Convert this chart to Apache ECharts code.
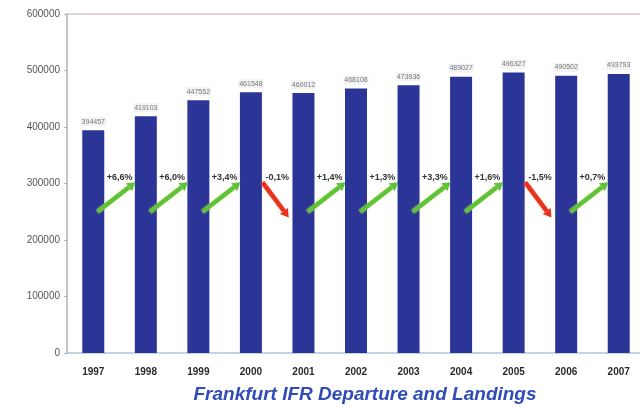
<!DOCTYPE html>
<html>
<head>
<meta charset="utf-8">
<script src="https://cdn.jsdelivr.net/npm/echarts@6/dist/echarts.min.js"></script>
<style>
  html, body { margin: 0; padding: 0; background: #ffffff; }
  #chart { width: 640px; height: 407px; }
</style>
</head>
<body>
<div id="chart"></div>
<script>
// Yearly IFR movements (departures + landings) at Frankfurt
var years = ['1997', '1998', '1999', '2000', '2001', '2002', '2003', '2004', '2005', '2006', '2007'];
var movements = [394457, 419103, 447552, 461548, 460012, 468108, 473936, 489027, 496327, 490502, 493793];
// Year-on-year change shown between neighbouring bars
var changes = ['+6,6%', '+6,0%', '+3,4%', '-0,1%', '+1,4%', '+1,3%', '+3,3%', '+1,6%', '-1,5%', '+0,7%'];
var yTicks = [0, 100000, 200000, 300000, 400000, 500000, 600000];

var chart = echarts.init(document.getElementById('chart'));

function arrowItem(params, api) {
  var i = params.dataIndex;
  var pct = changes[i];
  var up = pct.charAt(0) !== '-';
  var band = api.size([1, 0])[0];
  var lowV = 250000, highV = 302000;
  var a, b;
  if (up) {
    a = api.coord([i, lowV]);  a[0] += band * 0.08;
    b = api.coord([i, highV]); b[0] += band * 0.8;
  } else {
    a = api.coord([i, highV]); a[0] += band * 0.22;
    b = api.coord([i, lowV - 10000]); b[0] += band * 0.72;
  }
  var color = up ? '#5ec23a' : '#e8321e';
  var dx = b[0] - a[0], dy = b[1] - a[1];
  var len = Math.sqrt(dx * dx + dy * dy);
  var ux = dx / len, uy = dy / len;
  var hl = 8, hw = 5;
  var base = [b[0] - ux * hl, b[1] - uy * hl];
  var p1 = [base[0] - uy * hw, base[1] + ux * hw];
  var p2 = [base[0] + uy * hw, base[1] - ux * hw];
  var t = api.coord([i, 310000]);
  t[0] += band * 0.5;
  return {
    type: 'group',
    children: [
      {
        type: 'line',
        shape: { x1: a[0], y1: a[1], x2: base[0], y2: base[1] },
        style: { stroke: color, lineWidth: 4.5, shadowBlur: 2, shadowColor: up ? 'rgba(220,230,90,0.8)' : 'rgba(240,120,60,0.6)' }
      },
      {
        type: 'polygon',
        shape: { points: [b, p1, p2] },
        style: { fill: color }
      },
      {
        type: 'text',
        x: t[0], y: t[1],
        style: {
          text: pct,
          align: 'center', verticalAlign: 'middle',
          fill: '#333333',
          font: 'bold 9px "Liberation Sans", Arial, sans-serif'
        }
      }
    ]
  };
}

chart.setOption({
  animation: false,
  backgroundColor: '#ffffff',
  title: {
    text: 'Frankfurt IFR Departure and Landings',
    left: 360, top: 380, textAlign: 'center',
    textStyle: {
      fontFamily: '"Liberation Sans", Arial, sans-serif',
      fontSize: 19, fontWeight: 'bold', fontStyle: 'italic',
      color: '#2f4cb8'
    }
  },
  grid: { left: 67, right: -5, top: 14, bottom: 54, outerBoundsMode: 'none', containLabel: false },
  xAxis: [
    {
      type: 'category', data: years, boundaryGap: true,
      axisLine: { lineStyle: { color: '#aec6d8', width: 1.5 } },
      axisTick: { show: false },
      axisLabel: {
        color: '#2a2a2a', fontSize: 10, fontWeight: 'bold', margin: 14,
        fontFamily: '"Liberation Sans", Arial, sans-serif'
      }
    },
    {
      type: 'category', data: years, position: 'top',
      axisLine: { lineStyle: { color: '#d9c9c6', width: 1.5 } },
      axisTick: { show: false }, axisLabel: { show: false }
    }
  ],
  yAxis: {
    type: 'value', min: yTicks[0], max: yTicks[yTicks.length - 1], interval: 100000,
    axisLine: { show: true, lineStyle: { color: '#b0b0b0', width: 1.5 } },
    axisTick: { show: true, length: 3, lineStyle: { color: '#b0b0b0' } },
    splitLine: { show: false },
    axisLabel: {
      color: '#555555', fontSize: 10, margin: 7,
      fontFamily: '"Liberation Sans", Arial, sans-serif',
      formatter: function (v) { return String(v); }
    }
  },
  series: [
    {
      type: 'bar', data: movements, barWidth: 22,
      itemStyle: { color: '#2b3497' },
      label: {
        show: true, position: 'top', distance: 4,
        color: '#777777', fontSize: 7,
        fontFamily: '"Liberation Sans", Arial, sans-serif',
        backgroundColor: 'rgba(235,235,240,0.6)', padding: [1, 1]
      }
    },
    {
      type: 'custom',
      data: changes.map(function (c, i) { return [i, 300000]; }),
      renderItem: arrowItem,
      clip: false,
      z: 5
    }
  ]
});
</script>
</body>
</html>
